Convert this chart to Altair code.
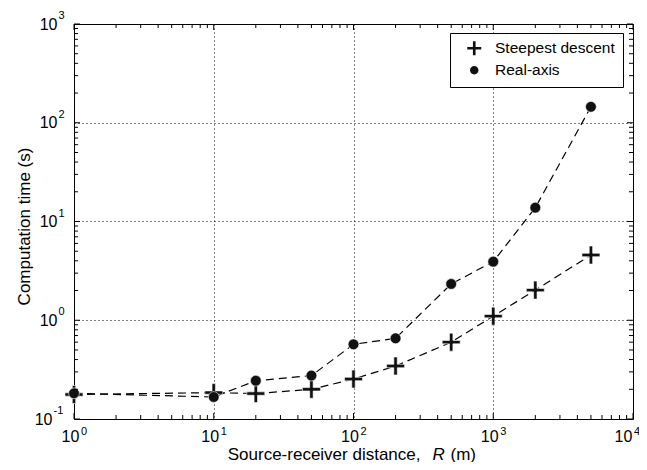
import altair as alt
import pandas as pd

# ---- data ----
R = [1, 10, 20, 50, 100, 200, 500, 1000, 2000, 5000]
steepest = [0.177, 0.185, 0.181, 0.20, 0.254, 0.344, 0.60, 1.10, 2.02, 4.58]
realaxis = [0.182, 0.167, 0.244, 0.275, 0.57, 0.656, 2.33, 3.92, 13.8, 145]
series_names = ["Steepest descent", "Real-axis"]

x_major = [1, 10, 100, 1000, 10000]
y_major = [0.1, 1, 10, 100, 1000]
x_minor = [m * 10 ** k for k in range(4) for m in range(2, 10)]
y_minor = [round(m * 10.0 ** k, 6) for k in range(-1, 3) for m in range(2, 10)]

rows = []
for name, vals in zip(series_names, [steepest, realaxis]):
    for r, v in zip(R, vals):
        rows.append({"R": r, "time": v, "series": name})
df = pd.DataFrame(rows)

W, H = 559, 395
FONT = "Liberation Sans"
PLUS = "M-1,-0.19H-0.19V-1H0.19V-0.19H1V0.19H0.19V1H-0.19V0.19H-1Z"
DOT = "M0.6,0A0.6,0.6,0,1,1,-0.6,0A0.6,0.6,0,1,1,0.6,0Z"

xs = alt.Scale(type="log", domain=[1, 10000], nice=False)
ys = alt.Scale(type="log", domain=[0.1, 1000], nice=False)

exp_expr = "'' + round(log(datum.value) / LN10)"
TITLE_Y = 40
LAST = "datum.value > 5000"

x_main = alt.Axis(values=x_major, orient="bottom", labelExpr="'10'", labelFontSize=16,
                  labelPadding=9,
                  labelOffset={"condition": {"test": LAST, "value": -10}, "value": -4},
                  labelFlush=False, labelOverlap=False,
                  ticks=False, domain=False, grid=True, gridDash=[1, 3], gridColor="black",
                  gridOpacity=1, gridWidth=1,
                  title="Source-receiver distance,", titleFontSize=17,
                  titleAlign="right", titleAnchor="start", titleX=346, titleY=TITLE_Y,
                  titleBaseline="alphabetic")
y_main = alt.Axis(values=y_major, orient="left", labelExpr="'10'", labelFontSize=16,
                  labelPadding={"condition": {"test": "datum.value < 0.5", "value": 22}, "value": 17},
                  labelFlush=False, labelOverlap=False, ticks=False, domain=False,
                  grid=True, gridDash=[1, 3], gridColor="black", gridOpacity=1, gridWidth=1,
                  title="Computation time (s)", titleFontSize=17, titleX=-45, titleY=202,
                  titleBaseline="alphabetic", titleAlign="center", titleAngle=270)

x_exp = alt.Axis(values=x_major, orient="bottom", labelExpr=exp_expr, labelFontSize=11,
                 labelPadding=6,
                 labelOffset={"condition": {"test": LAST, "value": 3.5}, "value": 9.5},
                 labelFlush=False, labelOverlap=False,
                 ticks=False, domain=False, grid=False, title="R", titleFontSize=17,
                 titleFontStyle="italic", titleAlign="left", titleAnchor="start",
                 titleX=358, titleY=TITLE_Y, titleBaseline="alphabetic")
y_exp = alt.Axis(values=y_major, orient="left", labelExpr=exp_expr, labelFontSize=11,
                 labelAlign="left",
                 labelPadding={"condition": {"test": "datum.value < 0.5", "value": 21}, "value": 16},
                 labelOffset=-8.5, labelFlush=False, labelOverlap=False, ticks=False,
                 domain=False, grid=False, title=None)

lines = alt.Chart(df).mark_line(color="black", strokeDash=[8, 5], strokeWidth=1.2).encode(
    x=alt.X("R:Q", scale=xs, axis=x_main),
    y=alt.Y("time:Q", scale=ys, axis=y_main),
    detail="series:N",
)

points = alt.Chart(df).mark_point(filled=True, size=324, color="#111", stroke="white",
                                  strokeWidth=0.6, opacity=1).encode(
    x=alt.X("R:Q", scale=xs, axis=x_exp),
    y=alt.Y("time:Q", scale=ys, axis=y_exp),
    shape=alt.Shape("series:N", scale=alt.Scale(domain=series_names, range=[PLUS, DOT]),
                    legend=alt.Legend(title=None, orient="none", legendX=376, legendY=9,
                                      padding=7.5, symbolOffset=9, labelOffset=13,
                                      labelFontSize=15.5, labelFont=FONT, labelColor="black",
                                      symbolSize=196, strokeColor="black", fillColor="white",
                                      rowPadding=5, symbolFillColor="#111",
                                      symbolStrokeWidth=0)),
)


def xticks(vals, length, top):
    return alt.Chart(pd.DataFrame({"R": vals})).mark_tick(
        orient="vertical", color="black", thickness=1, size=length, opacity=1
    ).encode(
        x=alt.X("R:Q", scale=xs, axis=None),
        y=alt.value(length / 2 if top else H - length / 2),
    )


def yticks(vals, length, right):
    return alt.Chart(pd.DataFrame({"time": vals})).mark_tick(
        orient="horizontal", color="black", thickness=1, size=length, opacity=1
    ).encode(
        y=alt.Y("time:Q", scale=ys, axis=None),
        x=alt.value(W - length / 2 if right else length / 2),
    )


tick_layers = [
    xticks(x_minor, 4, False), xticks(x_minor, 4, True),
    xticks(x_major, 6, False), xticks(x_major, 6, True),
    yticks(y_minor, 4, False), yticks(y_minor, 4, True),
    yticks(y_major, 6, False), yticks(y_major, 6, True),
]

unit_title = alt.Chart(df).mark_point(opacity=0).encode(
    x=alt.X("R:Q", scale=xs,
            axis=alt.Axis(orient="bottom", values=x_major, labels=False, ticks=False,
                          domain=False, grid=False, title="(m)", titleFontSize=17,
                          titleAlign="left", titleAnchor="start", titleX=376,
                          titleY=TITLE_Y, titleBaseline="alphabetic")),
    y=alt.Y("time:Q", scale=ys, axis=None),
)

chart = alt.layer(lines, points, *tick_layers, unit_title).resolve_axis(
    x="independent", y="independent"
).properties(
    width=W, height=H,
    padding={"left": 66, "top": 16, "right": 6, "bottom": 43},
    autosize=alt.AutoSizeParams(type="none"),
).configure_view(stroke="black", strokeWidth=1).configure_axis(
    labelFont=FONT, titleFont=FONT, labelColor="black", titleColor="black",
    titleFontWeight="normal",
)

chart.save("out.html", embed_options={"renderer": "svg", "actions": False})
